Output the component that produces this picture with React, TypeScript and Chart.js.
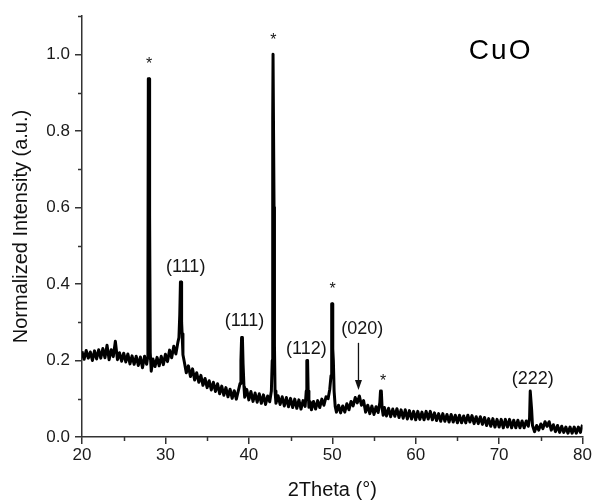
import { useEffect, useRef } from "react";
import { Chart, registerables } from "chart.js";
Chart.register(...registerables);

const twoTheta = [
  20.0, 20.25, 20.5, 20.75, 21.0, 21.25, 21.5, 21.75, 22.0, 22.25, 22.5, 22.75,
  23.0, 23.25, 23.5, 23.75, 24.0, 24.25, 24.5, 24.75, 25.0, 25.25, 25.5, 25.75,
  26.0, 26.25, 26.5, 26.75, 27.0, 27.25, 27.5, 27.75,
  27.85, 27.9, 27.95, 28.05, 28.08, 28.13, 28.18, 28.3,
  28.5, 28.75, 29.0, 29.25, 29.5, 29.75, 30.0, 30.25, 30.5, 30.75, 31.0, 31.25, 31.5,
  31.62, 31.72, 31.8, 31.88, 31.94, 32.0, 32.1, 32.25,
  32.5, 32.75, 33.0, 33.25, 33.5, 33.75, 34.0, 34.25, 34.5, 34.75, 35.0, 35.25,
  35.5, 35.75, 36.0, 36.25, 36.5, 36.75, 37.0, 37.25, 37.5, 37.75, 38.0, 38.25,
  38.5, 38.75,
  38.95, 39.05, 39.13, 39.23, 39.31, 39.42,
  39.5, 39.75, 40.0, 40.25, 40.5, 40.75, 41.0, 41.25, 41.5, 41.75, 42.0, 42.25, 42.5, 42.7,
  42.8, 42.86, 42.9, 42.98, 43.02, 43.07, 43.14,
  43.25, 43.5, 43.75, 44.0, 44.25, 44.5, 44.75, 45.0, 45.25, 45.5, 45.75, 46.0,
  46.25, 46.5, 46.75,
  46.88, 46.95, 47.04, 47.11, 47.2,
  47.35, 47.5, 47.75, 48.0, 48.25, 48.5, 48.75, 49.0, 49.25, 49.5, 49.7,
  49.85, 49.93, 50.01, 50.06, 50.13, 50.22, 50.35,
  50.5, 50.75, 51.0, 51.25, 51.5, 51.75, 52.0, 52.25, 52.5, 52.75, 53.0, 53.25,
  53.5, 53.75, 54.0, 54.25, 54.5, 54.75, 55.0, 55.25, 55.5,
  55.7, 55.78, 55.88, 55.97,
  56.1, 56.25, 56.5, 56.75, 57.0, 57.25, 57.5, 57.75, 58.0, 58.25, 58.5, 58.75,
  59.0, 59.25, 59.5, 59.75, 60.0, 60.25, 60.5, 60.75, 61.0, 61.25, 61.5, 61.75,
  62.0, 62.25, 62.5, 62.75, 63.0, 63.25, 63.5, 63.75, 64.0, 64.25, 64.5, 64.75,
  65.0, 65.25, 65.5, 65.75, 66.0, 66.25, 66.5, 66.75, 67.0, 67.25, 67.5, 67.75,
  68.0, 68.25, 68.5, 68.75, 69.0, 69.25, 69.5, 69.75, 70.0, 70.25, 70.5, 70.75,
  71.0, 71.25, 71.5, 71.75, 72.0, 72.25, 72.5, 72.75, 73.0, 73.25, 73.5,
  73.65, 73.73, 73.82, 73.9, 74.0,
  74.25, 74.5, 74.75, 75.0, 75.25, 75.5, 75.75, 76.0, 76.25, 76.5, 76.75, 77.0,
  77.25, 77.5, 77.75, 78.0, 78.25, 78.5, 78.75, 79.0, 79.25, 79.5, 79.75, 80.0,
];

const intensity = [
  0.224, 0.203, 0.226, 0.206, 0.222, 0.2, 0.225, 0.204, 0.228, 0.206, 0.231, 0.207,
  0.24, 0.202, 0.228, 0.21, 0.25, 0.202, 0.22, 0.198, 0.219, 0.196, 0.217, 0.191,
  0.212, 0.19, 0.211, 0.187, 0.209, 0.181, 0.211, 0.19,
  0.205, 0.376, 0.936, 0.936, 0.588, 0.58, 0.22, 0.172,
  0.204, 0.184, 0.208, 0.186, 0.211, 0.189, 0.216, 0.197, 0.227, 0.207, 0.237, 0.217, 0.248,
  0.26, 0.32, 0.405, 0.405, 0.3, 0.27, 0.215, 0.198,
  0.168, 0.186, 0.158, 0.178, 0.149, 0.168, 0.143, 0.161, 0.135, 0.153, 0.129, 0.147,
  0.123, 0.143, 0.119, 0.139, 0.113, 0.133, 0.109, 0.129, 0.105, 0.125, 0.101, 0.121,
  0.099, 0.122,
  0.14, 0.2, 0.26, 0.26, 0.19, 0.13,
  0.104, 0.124, 0.097, 0.119, 0.093, 0.115, 0.091, 0.113, 0.088, 0.11, 0.085, 0.107, 0.092, 0.12,
  0.2, 0.83, 1.0, 1.0, 0.6, 0.24, 0.12,
  0.088, 0.108, 0.085, 0.105, 0.081, 0.103, 0.079, 0.101, 0.077, 0.099, 0.075, 0.097,
  0.073, 0.095, 0.08,
  0.12, 0.2, 0.2, 0.12, 0.078,
  0.092, 0.071, 0.093, 0.073, 0.095, 0.077, 0.099, 0.083, 0.105, 0.1, 0.125,
  0.16, 0.348, 0.348, 0.23, 0.2, 0.12, 0.08,
  0.065, 0.083, 0.063, 0.081, 0.065, 0.087, 0.071, 0.093, 0.081, 0.103, 0.089, 0.107,
  0.083, 0.095, 0.065, 0.083, 0.061, 0.081, 0.059, 0.079, 0.064,
  0.09, 0.12, 0.12, 0.076,
  0.057, 0.077, 0.055, 0.075, 0.053, 0.073, 0.054, 0.074, 0.051, 0.071, 0.049, 0.071,
  0.047, 0.069, 0.047, 0.067, 0.045, 0.067, 0.046, 0.065, 0.045, 0.067, 0.047, 0.067,
  0.045, 0.063, 0.043, 0.061, 0.041, 0.061, 0.041, 0.059, 0.039, 0.059, 0.039, 0.057,
  0.037, 0.057, 0.037, 0.055, 0.037, 0.057, 0.039, 0.056, 0.035, 0.053, 0.035, 0.053,
  0.033, 0.051, 0.03, 0.048, 0.028, 0.048, 0.026, 0.046, 0.026, 0.046, 0.024, 0.046,
  0.026, 0.046, 0.024, 0.044, 0.024, 0.044, 0.024, 0.042, 0.024, 0.042, 0.028,
  0.05, 0.12, 0.12, 0.07, 0.03,
  0.014, 0.03, 0.018, 0.034, 0.022, 0.04, 0.028, 0.04, 0.018, 0.032, 0.014, 0.03,
  0.012, 0.028, 0.012, 0.026, 0.01, 0.026, 0.01, 0.026, 0.01, 0.026, 0.012, 0.032,
];

// Axis ticks
const minorXTicks = [25, 35, 45, 55, 65, 75];
const minorYTicks = [0.1, 0.3, 0.5, 0.7, 0.9, 1.1];

// Peak annotations (data coordinates)
const peakLabels = ["(111)", "(111)", "(112)", "(020)", "(222)"];
const peakLabelX = [32.43, 39.48, 46.89, 53.59, 74.02];
const peakLabelY = [0.431, 0.29, 0.217, 0.269, 0.138];
const starX = [28.04, 42.95, 50.04, 56.1];
const starY = [0.985, 1.049, 0.397, 0.158];
const arrowX = [53.14];
const arrowYFrom = [0.246];
const arrowYTo = [0.123];
const sampleName = "CuO";
const sampleNameX = 66.37;
const sampleNameY = 0.988;

const FONT = "'Liberation Sans', Arial, sans-serif";

export default function App() {
  const ref = useRef<HTMLCanvasElement>(null);

  useEffect(() => {
    document.body.style.margin = "0";
    const canvas = ref.current;
    if (!canvas) return;

    const annotPlugin = {
      id: "annot",
      afterDraw(chart: any) {
        const { ctx } = chart;
        const xs = chart.scales.x;
        const ys = chart.scales.y;
        ctx.save();
        // minor ticks
        ctx.strokeStyle = "#333";
        ctx.lineWidth = 1.5;
        minorXTicks.forEach((v) => {
          const px = Math.round(xs.getPixelForValue(v)) + 0.5;
          ctx.beginPath();
          ctx.moveTo(px, ys.bottom);
          ctx.lineTo(px, ys.bottom + 4);
          ctx.stroke();
        });
        minorYTicks.forEach((v) => {
          const py = Math.round(ys.getPixelForValue(v)) + 0.5;
          ctx.beginPath();
          ctx.moveTo(xs.left, py);
          ctx.lineTo(xs.left - 4, py);
          ctx.stroke();
        });

        ctx.fillStyle = "#151515";
        // peak labels
        ctx.font = `18px ${FONT}`;
        ctx.textAlign = "center";
        ctx.textBaseline = "alphabetic";
        peakLabels.forEach((t, i) => {
          ctx.fillText(t, xs.getPixelForValue(peakLabelX[i]), ys.getPixelForValue(peakLabelY[i]));
        });
        // stars
        ctx.font = `16px ${FONT}`;
        starX.forEach((v, i) => {
          ctx.fillText("*", xs.getPixelForValue(v), ys.getPixelForValue(starY[i]) + 9);
        });
        // arrow
        ctx.strokeStyle = "#111";
        ctx.lineWidth = 1.3;
        arrowX.forEach((v, i) => {
          const px = xs.getPixelForValue(v);
          const y1 = ys.getPixelForValue(arrowYFrom[i]);
          const y2 = ys.getPixelForValue(arrowYTo[i]);
          ctx.beginPath();
          ctx.moveTo(px, y1);
          ctx.lineTo(px, y2 - 8);
          ctx.stroke();
          ctx.beginPath();
          ctx.moveTo(px - 3.5, y2 - 10);
          ctx.lineTo(px + 3.5, y2 - 10);
          ctx.lineTo(px, y2);
          ctx.closePath();
          ctx.fillStyle = "#111";
          ctx.fill();
        });
        // sample name
        ctx.fillStyle = "#000";
        ctx.font = `28px ${FONT}`;
        ctx.textAlign = "left";
        (ctx as any).letterSpacing = "2px";
        ctx.fillText(sampleName, xs.getPixelForValue(sampleNameX), ys.getPixelForValue(sampleNameY));
        ctx.restore();
      },
    };

    const points = twoTheta.map((t, i) => ({ x: t, y: intensity[i] }));

    const chart = new Chart(canvas, {
      type: "line",
      data: {
        datasets: [
          {
            data: points,
            borderColor: "#000",
            borderWidth: 3,
            borderJoinStyle: "round",
            pointRadius: 0,
            tension: 0,
            fill: false,
          },
        ],
      },
      options: {
        animation: false,
        responsive: true,
        maintainAspectRatio: false,
        layout: { padding: { top: 16, right: 9, left: 0, bottom: 0 } },
        plugins: {
          legend: { display: false },
          tooltip: { enabled: false },
        },
        scales: {
          x: {
            type: "linear",
            min: 20,
            max: 80,
            afterFit: (s: any) => {
              s.height = 63;
            },
            border: { display: true, color: "#333", width: 1.5 },
            grid: {
              display: true,
              drawOnChartArea: false,
              drawTicks: true,
              tickLength: 7,
              color: "#333",
              lineWidth: 1.5,
            },
            ticks: {
              stepSize: 10,
              autoSkip: false,
              maxRotation: 0,
              padding: 1,
              color: "#1a1a1a",
              font: { family: FONT, size: 17 },
              callback: (v: any) => String(Math.round(Number(v))),
            },
            title: {
              display: true,
              text: "2Theta (°)",
              color: "#111",
              font: { family: FONT, size: 20, lineHeight: 1 },
              padding: { top: 0, bottom: 0 },
            },
          },
          y: {
            type: "linear",
            min: 0,
            max: 1.1,
            afterFit: (s: any) => {
              s.width = 82;
            },
            border: { display: true, color: "#333", width: 1.5 },
            grid: {
              display: true,
              drawOnChartArea: false,
              drawTicks: true,
              tickLength: 7,
              color: "#333",
              lineWidth: 1.5,
            },
            ticks: {
              stepSize: 0.2,
              includeBounds: false,
              autoSkip: false,
              padding: 5,
              color: "#1a1a1a",
              font: { family: FONT, size: 17 },
              callback: (v: any) => Number(v).toFixed(1),
            },
            title: {
              display: true,
              text: "Normalized Intensity (a.u.)",
              color: "#111",
              font: { family: FONT, size: 20, lineHeight: 1 },
              padding: { top: 11, bottom: 0 },
            },
          },
        },
      },
      plugins: [annotPlugin],
    });
    return () => chart.destroy();
  }, []);

  return (
    <div style={{ position: "relative", width: 593, height: 500 }}>
      <canvas ref={ref} />
    </div>
  );
}
